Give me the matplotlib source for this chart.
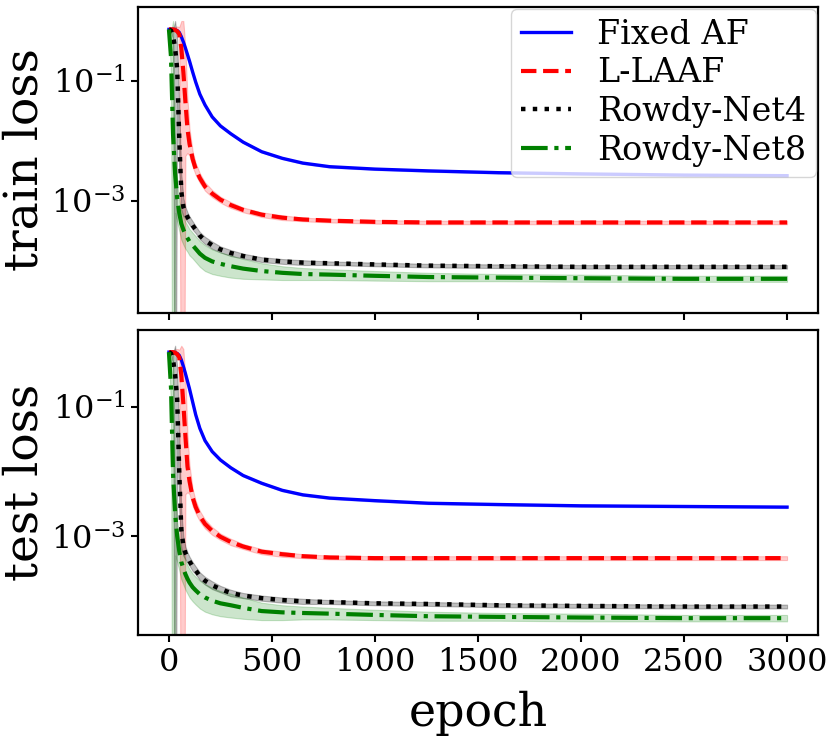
import numpy as np
import matplotlib
matplotlib.use("Agg")
import matplotlib.pyplot as plt
from matplotlib.ticker import NullLocator

plt.rcParams['font.family'] = ['DejaVu Serif']
plt.rcParams['mathtext.fontset'] = 'dejavuserif'

epochs = [0, 10, 20, 30, 40, 50, 60, 70, 80, 90, 100, 115, 130, 150, 175, 210,
          250, 300, 360, 450, 550, 650, 780, 1000, 1260, 1600, 2000, 2500, 3000]

labels = ["Fixed AF", "L-LAAF", "Rowdy-Net4", "Rowdy-Net8"]

# log10 of the mean loss, train panel
train_fixed = [-0.14, -0.14, -0.14, -0.15, -0.16, -0.19, -0.26, -0.35, -0.45, -0.56, -0.67, -0.85, -1.02, -1.22, -1.40,
               -1.60, -1.75, -1.88, -2.02, -2.18, -2.29, -2.37, -2.43, -2.47, -2.50, -2.53, -2.55, -2.57, -2.58]
train_laaf = [-0.14, -0.14, -0.14, -0.15, -0.17, -0.22, -0.45, -0.85, -1.35, -1.80, -2.05, -2.30, -2.47, -2.62, -2.76,
              -2.88, -2.98, -3.07, -3.15, -3.23, -3.28, -3.31, -3.33, -3.35, -3.36, -3.36, -3.36, -3.36, -3.36]
train_rowdy4 = [-0.14, -0.16, -0.25, -0.45, -0.80, -1.95, -2.85, -3.10, -3.20, -3.27, -3.33, -3.41, -3.48, -3.58, -3.66,
                -3.74, -3.81, -3.87, -3.92, -3.98, -4.01, -4.03, -4.04, -4.06, -4.08, -4.09, -4.10, -4.10, -4.10]
train_rowdy8 = [-0.14, -0.60, -1.90, -2.55, -2.95, -3.20, -3.38, -3.48, -3.56, -3.62, -3.68, -3.74, -3.80, -3.88, -3.95,
                -4.01, -4.05, -4.09, -4.13, -4.17, -4.20, -4.22, -4.23, -4.25, -4.27, -4.28, -4.29, -4.30, -4.30]

# log10 of the mean loss, test panel
test_fixed = [-0.15, -0.15, -0.15, -0.16, -0.17, -0.20, -0.27, -0.37, -0.48, -0.60, -0.72, -0.92, -1.12, -1.33, -1.52,
              -1.69, -1.82, -1.94, -2.06, -2.18, -2.29, -2.36, -2.41, -2.45, -2.49, -2.51, -2.53, -2.54, -2.55]
test_laaf = [-0.15, -0.15, -0.15, -0.16, -0.18, -0.23, -0.50, -0.95, -1.45, -1.92, -2.15, -2.40, -2.55, -2.69, -2.81,
             -2.92, -3.01, -3.09, -3.16, -3.24, -3.28, -3.31, -3.33, -3.34, -3.34, -3.34, -3.34, -3.34, -3.34]
test_rowdy4 = [-0.15, -0.17, -0.27, -0.50, -0.88, -2.00, -2.90, -3.15, -3.26, -3.33, -3.39, -3.47, -3.53, -3.62, -3.69,
               -3.76, -3.82, -3.88, -3.92, -3.96, -3.99, -4.01, -4.02, -4.04, -4.05, -4.07, -4.08, -4.09, -4.09]
test_rowdy8 = [-0.15, -0.70, -2.05, -2.65, -3.00, -3.23, -3.40, -3.50, -3.59, -3.66, -3.72, -3.79, -3.84, -3.90, -3.95,
               -4.00, -4.04, -4.07, -4.11, -4.16, -4.18, -4.19, -4.20, -4.22, -4.24, -4.25, -4.26, -4.27, -4.27]

# spread of the runs (decades below / above the mean), same for both panels
fixed_lo = [-0.015] * 29
fixed_hi = [0.015] * 29
laaf_lo = [-0.03, -0.03, -0.03, -0.03, -0.03, -0.05, -9, -9, -0.9, -0.40, -0.20, -0.13, -0.10, -0.08, -0.07,
           -0.06, -0.05, -0.05, -0.04, -0.04, -0.04, -0.03, -0.03, -0.03, -0.03, -0.03, -0.03, -0.03, -0.03]
laaf_hi = [0.03, 0.03, 0.03, 0.05, 0.08, 0.12, 0.45, 0.85, 0.9, 0.5, 0.25, 0.13, 0.10, 0.08, 0.07,
           0.06, 0.05, 0.05, 0.04, 0.04, 0.04, 0.03, 0.03, 0.03, 0.03, 0.03, 0.03, 0.03, 0.03]
rowdy4_lo = [-0.03, -0.03, -0.05, -9, -0.5, -0.6, -0.3, -0.15, -0.10, -0.08, -0.07, -0.07, -0.06, -0.06, -0.06,
             -0.06, -0.05, -0.05, -0.04, -0.04, -0.04, -0.04, -0.03, -0.03, -0.03, -0.03, -0.03, -0.03, -0.03]
rowdy4_hi = [0.03, 0.05, 0.10, 0.45, 0.5, 0.5, 0.3, 0.15, 0.10, 0.08, 0.07, 0.07, 0.06, 0.06, 0.06,
             0.06, 0.05, 0.05, 0.04, 0.04, 0.04, 0.04, 0.03, 0.03, 0.03, 0.03, 0.03, 0.03, 0.03]
rowdy8_lo = [-0.03, -0.3, -9, -0.65, -0.4, -0.3, -0.27, -0.25, -0.24, -0.23, -0.23, -0.22, -0.22, -0.22, -0.22,
             -0.21, -0.20, -0.19, -0.17, -0.14, -0.12, -0.10, -0.09, -0.08, -0.07, -0.06, -0.06, -0.05, -0.05]
rowdy8_hi = [0.03, 0.4, 1.9, 0.3, 0.24, 0.21, 0.21, 0.21, 0.21, 0.21, 0.21, 0.21, 0.21, 0.21, 0.21,
             0.20, 0.19, 0.18, 0.16, 0.13, 0.11, 0.10, 0.09, 0.08, 0.07, 0.06, 0.06, 0.05, 0.05]

colors = ["b", "r", "k", "g"]
styles = ["-", "--", ":", "-."]
widths = [2.4, 3.0, 3.2, 3.0]
band_alpha = [0.2, 0.2, 0.25, 0.2]

train = [train_fixed, train_laaf, train_rowdy4, train_rowdy8]
test = [test_fixed, test_laaf, test_rowdy4, test_rowdy8]
lows = [fixed_lo, laaf_lo, rowdy4_lo, rowdy8_lo]
highs = [fixed_hi, laaf_hi, rowdy4_hi, rowdy8_hi]

x = np.array(epochs)

fig = plt.figure(figsize=(8.3, 7.47), dpi=100)
ax1 = fig.add_axes([0.1663, 0.581, 0.8192, 0.4096])
ax2 = fig.add_axes([0.1663, 0.150, 0.8192, 0.4083], sharex=ax1)

def draw(ax, data):
    for i in range(4):
        m = np.array(data[i])
        ax.fill_between(x, 10 ** (m + np.array(lows[i])), 10 ** (m + np.array(highs[i])),
                        color=colors[i], alpha=band_alpha[i], lw=0.8)
    for i in range(4):
        ax.plot(x, 10 ** np.array(data[i]), color=colors[i], ls=styles[i], lw=widths[i], label=labels[i])
    ax.set_yscale("log")
    ax.set_yticks([1e-1, 1e-3])
    ax.yaxis.set_minor_locator(NullLocator())
    ax.tick_params(axis="both", which="major", labelsize=23, length=5, width=1.5, pad=4)
    for s in ax.spines.values():
        s.set_linewidth(1.6)

draw(ax1, train)
draw(ax2, test)

ax1.set_ylim(10 ** -4.87, 10 ** 0.233)
ax2.set_ylim(10 ** -4.53, 10 ** 0.194)
ax1.set_xlim(-150, 3150)
ax1.set_xticks([0, 500, 1000, 1500, 2000, 2500, 3000])
ax1.tick_params(labelbottom=False)

ax1.set_ylabel("train loss", fontsize=34)
ax2.set_ylabel("test loss", fontsize=34)
ax2.set_xlabel("epoch", fontsize=33, labelpad=9)
ax1.yaxis.set_label_coords(-0.133, 0.5)
ax2.yaxis.set_label_coords(-0.133, 0.5)

ax1.legend(loc="upper right", fontsize=24, borderaxespad=0.05, labelspacing=0.2,
           handlelength=1.5, handletextpad=0.8, borderpad=0.3)

fig.savefig("out.png", dpi=100)
